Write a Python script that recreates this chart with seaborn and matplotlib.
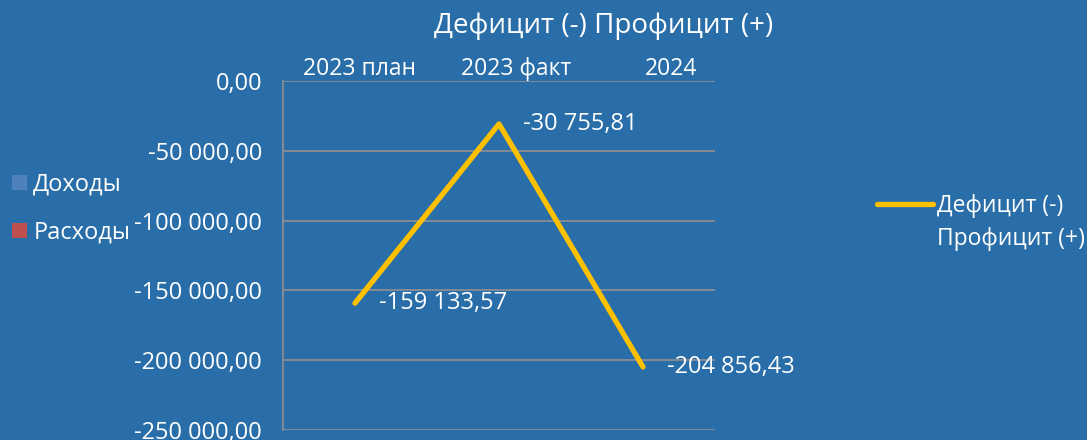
import numpy as np
import pandas as pd
import matplotlib
matplotlib.use('Agg')
import matplotlib.pyplot as plt
import seaborn as sns
from matplotlib.patches import Patch
from matplotlib.lines import Line2D
from matplotlib.ticker import FuncFormatter

# данные графика
categories = ['2023 план', '2023 факт', '2024']
balance = [-159133.57, -30755.81, -204856.43]
bar_series = ['Доходы', 'Расходы']
bar_colors = ['#4F81BD', '#C0504D']
line_name = 'Дефицит (-)\nПрофицит (+)'
title = 'Дефицит (-) Профицит (+)'

bg = '#296EA8'
grid_col = '#8A8E96'
line_col = '#FFC000'

sns.set_style('white')
plt.rcParams['font.family'] = ['Open Sans', 'DejaVu Sans']
plt.rcParams['text.color'] = 'white'

def fmt(v):
    s = f'{abs(v):,.2f}'.replace(',', ' ').replace('.', ',')
    return ('-' if v < 0 else '') + s

df = pd.DataFrame({'cat': categories, 'val': balance})
df['pos'] = np.arange(len(df))

fig = plt.figure(figsize=(10.87, 4.4), dpi=100, facecolor=bg)
ax = fig.add_axes([283 / 1087, 1 - 430 / 440, (715 - 283) / 1087, (430 - 81) / 440])
ax.set_facecolor(bg)

sns.lineplot(data=df, x='pos', y='val', color=line_col, linewidth=3.8,
             solid_capstyle='round', ax=ax, legend=False)

ax.set_xlim(-0.5, len(categories) - 0.5)
ax.set_ylim(-250000, 0)
ax.set_yticks(np.arange(-250000, 1, 50000))
ax.yaxis.set_major_formatter(FuncFormatter(lambda v, p: fmt(v)))
ax.tick_params(axis='y', colors=grid_col, labelcolor='white', labelsize=17,
               length=7, width=1.3, direction='out', pad=8)
ax.set_xticks([])
ax.set_xlabel('')
ax.set_ylabel('')
ax.grid(axis='y', color=grid_col, linewidth=1.3)
ax.set_axisbelow(True)
for side in ['top', 'right', 'bottom']:
    ax.spines[side].set_visible(False)
ax.spines['left'].set_color(grid_col)
ax.spines['left'].set_linewidth(1.3)

# подписи категорий сверху
cat_dx = [3, 12, 20]
for i, c in enumerate(categories):
    ax.annotate(c, xy=(i, 0), xytext=(cat_dx[i], 0), textcoords='offset points',
                ha='center', va='bottom', fontsize=16.5, color='white')

# подписи значений
for i, v in enumerate(balance):
    ax.annotate(fmt(v), xy=(i, v), xytext=(17, 0), textcoords='offset points',
                ha='left', va='center', fontsize=17, color='white')

fig.text(0.555, 0.94, title, ha='center', va='center', fontsize=20, color='white')

# легенды
h_bars = [Patch(facecolor=c, edgecolor='none') for c in bar_colors]
fig.legend(h_bars, bar_series, loc='center left', bbox_to_anchor=(12 / 1087, 0.526),
           frameon=False, fontsize=17, handlelength=0.65, handleheight=0.6,
           handletextpad=0.25, labelspacing=1.0, borderpad=0, borderaxespad=0,
           labelcolor='white')

line_lines = line_name.split('\n')
h_line = [Line2D([0], [0], color=line_col, linewidth=3.8, solid_capstyle='round')]
fig.legend(h_line, [line_lines[0]], loc='center left',
           bbox_to_anchor=(877 / 1087, 1 - 206 / 440), frameon=False, fontsize=16.5,
           handlelength=2.45, handletextpad=0.17, borderpad=0, borderaxespad=0,
           labelcolor='white')
fig.text(937 / 1087, 1 - 239 / 440, line_lines[1], ha='left', va='center',
         fontsize=16.5, color='white')

fig.savefig('out.png', dpi=100, facecolor=bg)
